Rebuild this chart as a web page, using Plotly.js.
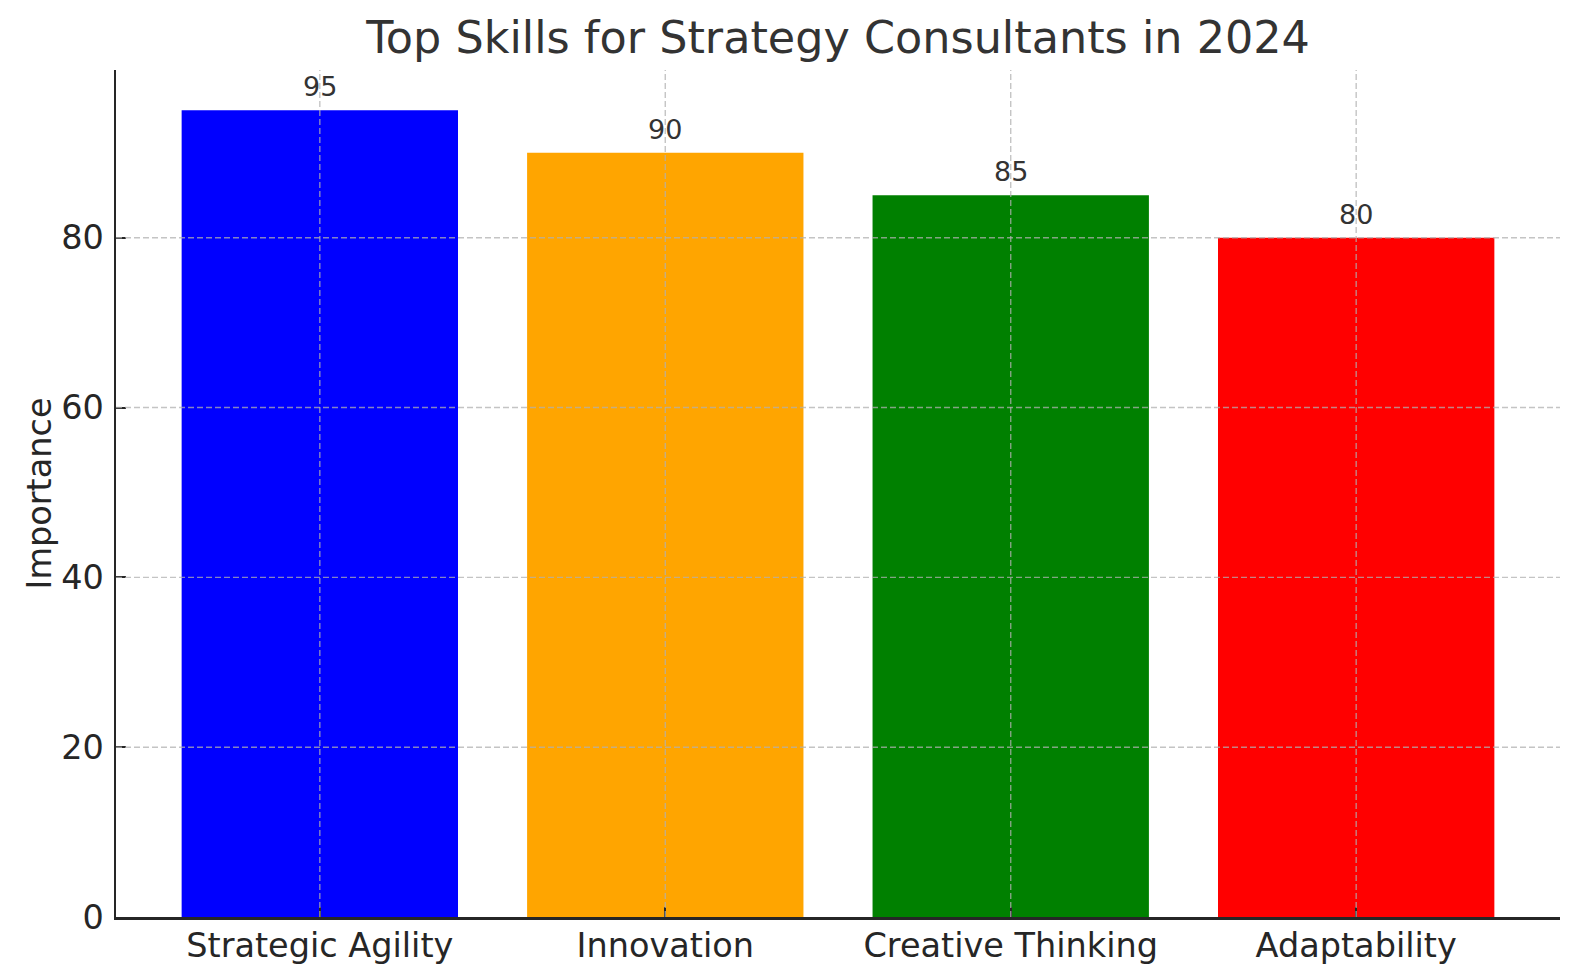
<!DOCTYPE html>
<html>
<head>
<meta charset="utf-8">
<script src="https://cdn.plot.ly/plotly-3.0.1.min.js"></script>
<style>
    html, body { margin: 0; padding: 0; background: #ffffff; overflow: hidden; }
    #chart { width: 1580px; height: 980px; }
</style>
</head>
<body>
<div id="chart"></div>
<script>
    'use strict';

    // data
    const skills = ['Strategic Agility', 'Innovation', 'Creative Thinking', 'Adaptability'];
    const importance = [95, 90, 85, 80];
    const barColors = ['blue', 'orange', 'green', 'red'];
    const yTicks = [0, 20, 40, 60, 80];

    const font = 'DejaVu Sans, Verdana, sans-serif';
    const gridStyle = { color: 'rgba(176, 176, 176, 0.75)', width: 1.4, dash: '6px,3px' };

    const trace = {
        type: 'bar',
        x: skills,
        y: importance,
        width: 0.8,
        marker: { color: barColors, line: { width: 0 } },
        hoverinfo: 'x+y'
    };

    // dashed grid sits on top of the bars, like the original
    const gridShapes = []
        .concat(skills.map(s => ({
            type: 'line', layer: 'above',
            xref: 'x', yref: 'paper',
            x0: s, x1: s, y0: 0, y1: 1,
            line: gridStyle
        })))
        .concat(yTicks.filter(v => v > 0).map(v => ({
            type: 'line', layer: 'above',
            xref: 'paper', yref: 'y',
            x0: 0, x1: 1, y0: v, y1: v,
            line: gridStyle
        })));

    const valueLabels = skills.map((s, i) => ({
        x: s,
        y: importance[i],
        xref: 'x', yref: 'y',
        text: String(importance[i]),
        showarrow: false,
        yanchor: 'bottom',
        yshift: 6,
        font: { family: font, size: 27, color: '#333333' }
    }));

    const layout = {
        width: 1580,
        height: 980,
        paper_bgcolor: '#ffffff',
        plot_bgcolor: '#ffffff',
        margin: { l: 116, r: 20, t: 70, b: 63 },
        showlegend: false,
        font: { family: font, color: '#262626' },
        title: {
            text: 'Top Skills for Strategy Consultants in 2024',
            font: { family: font, size: 44.5, color: '#333333' },
            x: 0.5304, xanchor: 'center',
            yref: 'container', y: 0.962, yanchor: 'middle'
        },
        xaxis: {
            type: 'category',
            range: [-0.59, 3.59],
            showgrid: false,
            zeroline: false,
            showline: true,
            linecolor: '#262626',
            linewidth: 2.5,
            mirror: false,
            layer: 'above traces',
            ticks: 'inside',
            ticklen: 10,
            tickwidth: 2,
            tickcolor: '#262626',
            ticklabelstandoff: -3,
            tickfont: { family: font, size: 33.5, color: '#262626' },
            fixedrange: true
        },
        yaxis: {
            range: [0, 99.75],
            tickvals: yTicks,
            showgrid: false,
            zeroline: false,
            showline: true,
            linecolor: '#262626',
            linewidth: 2.5,
            mirror: false,
            layer: 'above traces',
            ticks: 'inside',
            ticklen: 10,
            tickwidth: 2,
            tickcolor: '#262626',
            ticklabelstandoff: 3,
            tickfont: { family: font, size: 33.5, color: '#262626' },
            title: {
                text: 'Importance',
                font: { family: font, size: 33.5, color: '#262626' },
                standoff: 0
            },
            automargin: false,
            fixedrange: true
        },
        shapes: gridShapes,
        annotations: valueLabels,
        bargap: 0.2
    };

    Plotly.newPlot('chart', [trace], layout, { responsive: false, displayModeBar: false, staticPlot: true });
</script>
</body>
</html>
